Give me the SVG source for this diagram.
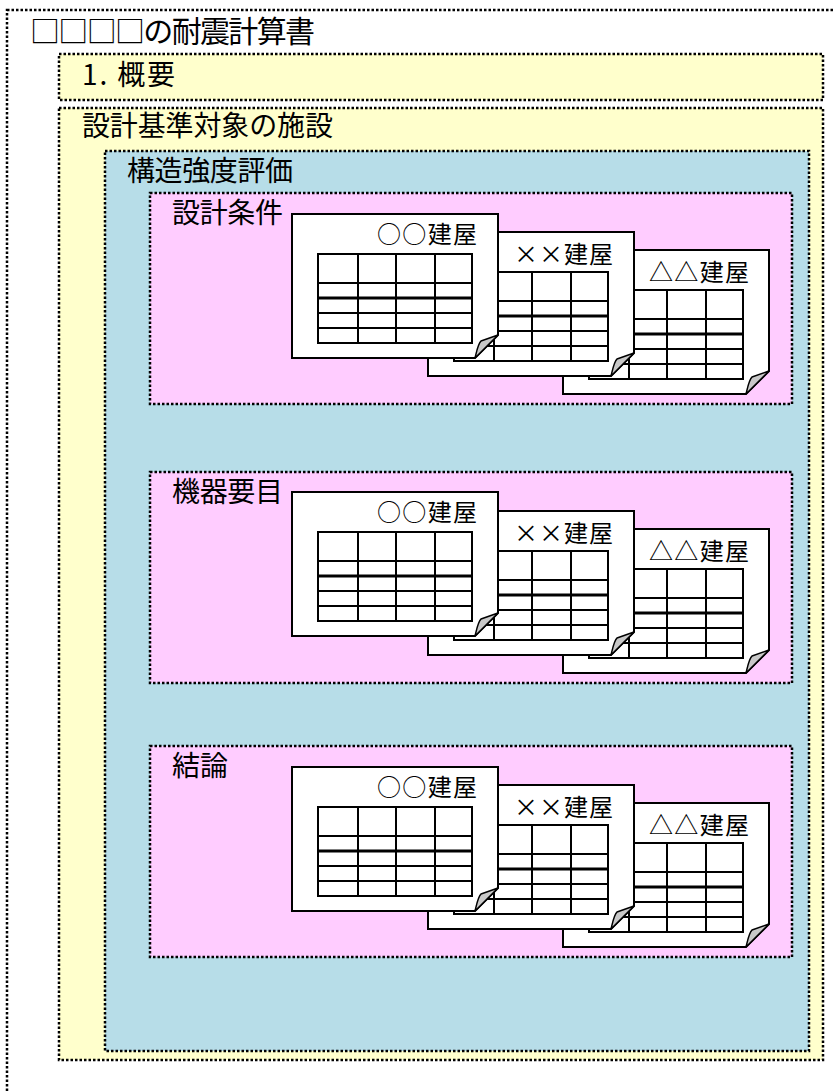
<svg xmlns="http://www.w3.org/2000/svg" xmlns:xlink="http://www.w3.org/1999/xlink" width="834" height="1091" viewBox="0 0 834 1091">
<style>
.frame{stroke:#000;stroke-width:2.5;stroke-dasharray:2.5 2}
.lbl{font-family:"Noto Sans CJK JP","Noto Sans CJK SC",sans-serif;fill:#000}
.big{font-size:28px}
.title{font-size:30px}
.doct{font-size:24px}
.page{fill:#fff;stroke:#000;stroke-width:2}
.curl{fill:#c8c8c8;stroke:#000;stroke-width:1.5;stroke-linejoin:round}
.tbl{fill:none;stroke:#000;stroke-width:2}
.thick{stroke:#000;stroke-width:3}
</style>
<defs>
<g id="doc">
<polygon class="page" points="0,0 206,0 206,121 183,144 0,144"/>
<path class="curl" d="M183,144 C185,136 186,130 189,127 L206,121 Z"/>
<rect class="tbl" x="26" y="40" width="154" height="89"/>
<path class="tbl" d="M66,40V129M104,40V129M143,40V129M26,69H180M26,99H180M26,114H180"/>
<path class="thick" d="M26,84H180"/>
</g>
</defs>
<rect id="outer" class="frame" x="7" y="10" width="840" height="1100" fill="#fff"/>
<text class="lbl title" x="30" y="42" textLength="285" lengthAdjust="spacing">□□□□の耐震計算書</text>
<g id="overview">
<rect class="frame" x="59" y="54" width="764" height="46" fill="#FFFFCC"/>
<text class="lbl big" x="82" y="85" textLength="93" lengthAdjust="spacing">1. 概要</text>
</g>
<g id="facility">
<rect class="frame" x="59" y="108" width="764" height="952" fill="#FFFFCC"/>
<text class="lbl big" x="82" y="136" textLength="251" lengthAdjust="spacing">設計基準対象の施設</text>
</g>
<g id="strength">
<rect class="frame" x="105" y="151" width="704" height="900" fill="#B7DDE8"/>
<text class="lbl big" x="127" y="181" textLength="166" lengthAdjust="spacing">構造強度評価</text>
</g>
<g id="design-conditions">
<rect class="frame" x="150" y="193" width="642" height="211" fill="#FFCCFF"/>
<text class="lbl big" x="172" y="223" textLength="111" lengthAdjust="spacing">設計条件</text>
<g transform="translate(563,250)"><use xlink:href="#doc"/><text class="lbl doct" x="86" y="31" textLength="100" lengthAdjust="spacing">△△建屋</text></g>
<g transform="translate(428,232)"><use xlink:href="#doc"/><text class="lbl doct" x="86" y="31" textLength="99" lengthAdjust="spacing">××建屋</text></g>
<g transform="translate(292,214)"><use xlink:href="#doc"/><text class="lbl doct" x="85" y="29" textLength="100" lengthAdjust="spacing">○○建屋</text></g>
</g>
<g id="equipment">
<rect class="frame" x="150" y="472" width="642" height="211" fill="#FFCCFF"/>
<text class="lbl big" x="172" y="502" textLength="111" lengthAdjust="spacing">機器要目</text>
<g transform="translate(563,529)"><use xlink:href="#doc"/><text class="lbl doct" x="86" y="31" textLength="100" lengthAdjust="spacing">△△建屋</text></g>
<g transform="translate(428,511)"><use xlink:href="#doc"/><text class="lbl doct" x="86" y="31" textLength="99" lengthAdjust="spacing">××建屋</text></g>
<g transform="translate(292,492)"><use xlink:href="#doc"/><text class="lbl doct" x="85" y="29" textLength="100" lengthAdjust="spacing">○○建屋</text></g>
</g>
<g id="conclusion">
<rect class="frame" x="150" y="746" width="642" height="211" fill="#FFCCFF"/>
<text class="lbl big" x="172" y="776">結論</text>
<g transform="translate(563,803)"><use xlink:href="#doc"/><text class="lbl doct" x="86" y="31" textLength="100" lengthAdjust="spacing">△△建屋</text></g>
<g transform="translate(428,785)"><use xlink:href="#doc"/><text class="lbl doct" x="86" y="31" textLength="99" lengthAdjust="spacing">××建屋</text></g>
<g transform="translate(292,767)"><use xlink:href="#doc"/><text class="lbl doct" x="85" y="29" textLength="100" lengthAdjust="spacing">○○建屋</text></g>
</g>
<g id="connectors"></g>
</svg>
